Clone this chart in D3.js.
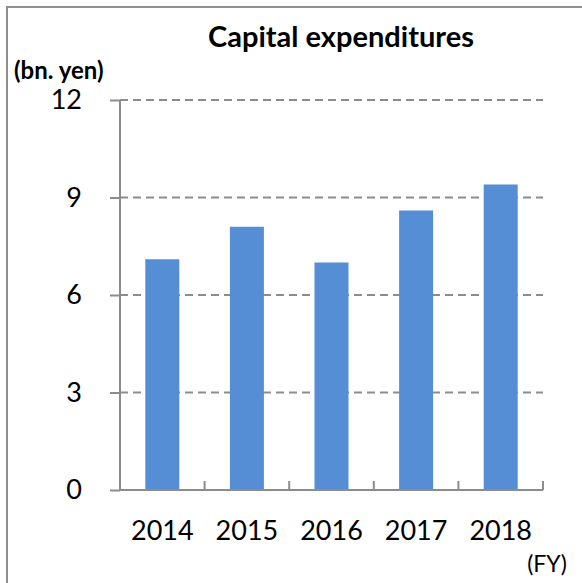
<!DOCTYPE html>
<html>
<head>
<meta charset="utf-8">
<script src="https://cdn.jsdelivr.net/npm/d3@7"></script>
<style>
  html, body { margin: 0; padding: 0; background: #fff; }
  svg { display: block; font-family: Lato, "Open Sans", sans-serif; }
</style>
</head>
<body>
<svg id="chart" width="582" height="583"></svg>
<script>
// data
var years = ['2014', '2015', '2016', '2017', '2018'];
var capex = [7.1, 8.1, 7.0, 8.6, 9.4];
var yTicks = [0, 3, 6, 9, 12];

var svg = d3.select('#chart');

var margin = {top: 100, right: 39, bottom: 93, left: 120}
  , width = 582
  , height = 583
  , innerW = width - margin.left - margin.right
  , innerH = height - margin.top - margin.bottom
  , gray = '#8c8c8c'
  , barColor = '#558ed5'
  ;

// frame (only top/left visible in the crop)
svg.append('rect')
    .attr('x', 7).attr('y', 7)
    .attr('width', 600).attr('height', 600)
    .attr('fill', 'none')
    .attr('stroke', '#8f8f8f')
    .attr('stroke-width', 2);

var x = d3.scaleBand()
    .domain(years)
    .range([0, innerW])
    .paddingInner(0.6)
    .paddingOuter(0.3);

var y = d3.scaleLinear()
    .domain([0, 12])
    .range([innerH, 0]);

var g = svg.append('g')
    .attr('transform', 'translate(' + margin.left + ',' + margin.top + ')');

//------------------------------------------------------------
// gridlines + y axis

var yAxis = g.append('g')
    .call(d3.axisLeft(y).tickValues(yTicks).tickSize(10).tickPadding(28));
yAxis.select('.domain').attr('stroke', gray).attr('stroke-width', 2)
    .attr('d', 'M0,' + innerH + 'V0');
yAxis.selectAll('.tick line').attr('stroke', gray).attr('stroke-width', 2);
yAxis.selectAll('.tick text')
    .attr('font-family', 'Lato, "Open Sans", sans-serif')
    .attr('font-size', 27)
    .attr('fill', '#000');

g.append('g').selectAll('line.grid')
    .data(yTicks.filter(function(d) { return d > 0; }))
  .enter().append('line')
    .attr('class', 'grid')
    .attr('x1', 0).attr('x2', innerW)
    .attr('y1', function(d) { return y(d); })
    .attr('y2', function(d) { return y(d); })
    .attr('stroke', gray)
    .attr('stroke-width', 2)
    .attr('stroke-dasharray', '8,5');

//------------------------------------------------------------
// bars

g.selectAll('rect.bar')
    .data(capex)
  .enter().append('rect')
    .attr('class', 'bar')
    .attr('x', function(d, i) { return x(years[i]) + x.bandwidth() / 2 - 17; })
    .attr('width', 34)
    .attr('y', function(d) { return y(d); })
    .attr('height', function(d) { return innerH - y(d); })
    .attr('fill', barColor);

//------------------------------------------------------------
// x axis with boundary ticks

g.append('line')
    .attr('x1', 0).attr('x2', innerW)
    .attr('y1', innerH).attr('y2', innerH)
    .attr('stroke', gray).attr('stroke-width', 2);

g.selectAll('line.xtick')
    .data(years)
  .enter().append('line')
    .attr('class', 'xtick')
    .attr('x1', function(d, i) { return (i + 1) * innerW / years.length; })
    .attr('x2', function(d, i) { return (i + 1) * innerW / years.length; })
    .attr('y1', innerH).attr('y2', innerH - 9)
    .attr('stroke', gray).attr('stroke-width', 2);

g.selectAll('text.xlabel')
    .data(years)
  .enter().append('text')
    .attr('class', 'xlabel')
    .attr('x', function(d) { return x(d) + x.bandwidth() / 2; })
    .attr('y', innerH + 50)
    .attr('text-anchor', 'middle')
    .attr('font-size', 27)
    .text(function(d) { return d; });

//------------------------------------------------------------
// titles

svg.append('text')
    .attr('x', 341).attr('y', 47)
    .attr('text-anchor', 'middle')
    .attr('font-weight', 'bold')
    .attr('font-size', 29)
    .text('Capital expenditures');

svg.append('text')
    .attr('x', 14).attr('y', 79)
    .attr('font-weight', 'bold')
    .attr('font-size', 24)
    .text('(bn. yen)');

svg.append('text')
    .attr('x', 567).attr('y', 572)
    .attr('text-anchor', 'end')
    .attr('font-size', 23)
    .text('(FY)');
</script>
</body>
</html>
